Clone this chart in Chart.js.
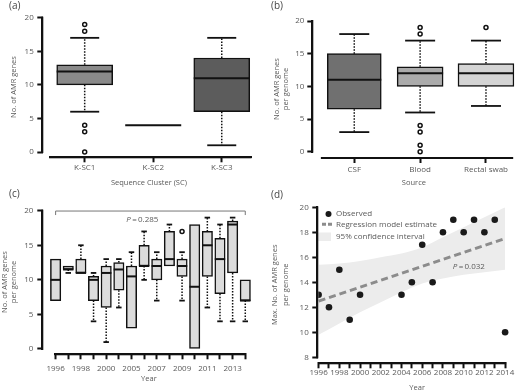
<!DOCTYPE html>
<html><head><meta charset="utf-8">
<script src="https://cdn.jsdelivr.net/npm/chart.js@4.4.1/dist/chart.umd.min.js"></script>
<style>
html,body{margin:0;padding:0;background:#fff;overflow:hidden;width:520px;height:391px;}
canvas{position:absolute;}
.axisline{position:absolute;background:#111;z-index:5;pointer-events:none;}
</style></head><body>
<canvas id="ca" width="260" height="192" style="left:0;top:0"></canvas>
<canvas id="cb" width="260" height="192" style="left:260px;top:0"></canvas>
<canvas id="cc" width="260" height="206" style="left:0;top:185px"></canvas>
<canvas id="cd" width="260" height="210" style="left:260px;top:185px"></canvas>
<script>
// ---------- DATA ----------
// (a) by sequence cluster
const scCategories = ['K-SC1', 'K-SC2', 'K-SC3'];
const scQ1 = [10, 4, 6];
const scMedian = [12, 4, 11];
const scQ3 = [13, 4, 14];
const scWhiskerLow = [6, 4, 1];
const scWhiskerHigh = [17, 4, 17];
const scOutliers = [[19, 18, 4, 3, 0], [], []];

// (b) by source
const srcCategories = ['CSF', 'Blood', 'Rectal swab'];
const srcQ1 = [6.5, 10, 10];
const srcMedian = [11, 12, 12];
const srcQ3 = [15, 13, 13.5];
const srcWhiskerLow = [3, 6, 7];
const srcWhiskerHigh = [18, 17, 17];
const srcOutliers = [[], [19, 18, 4, 3, 1, 0], [19]];

// (c) by year
const yearCategories = [1996, 1997, 1998, 1999, 2000, 2004, 2005, 2006, 2007, 2008, 2009, 2010, 2011, 2012, 2013, 2014];
const yrQ1 = [7, 11.5, 11, 7, 6, 8.5, 3, 12, 10, 12, 10.5, 0, 10.5, 8, 11, 7];
const yrMedian = [10, 11.5, 11, 10, 11, 11.5, 10.5, 12, 12, 13, 12, 9, 15, 13, 18, 7];
const yrQ3 = [13, 12, 13, 10.5, 12, 12.5, 12, 15, 13, 17, 13, 18, 17, 16, 18.5, 10];
const yrWhiskerLow = [7, 11, 11, 4, 1, 6, 3, 10, 7, 12, 7, 0, 6, 4, 4, 4];
const yrWhiskerHigh = [13, 12, 15, 11, 13, 13, 14, 17, 14, 18, 14, 18, 19, 18, 19, 10];
const yrOutliers = [[], [], [], [], [], [], [], [], [], [], [17], [], [], [], [], []];

// (d) max per year, regression and CI
const maxYears = [1996, 1997, 1998, 1999, 2000, 2004, 2005, 2006, 2007, 2008, 2009, 2010, 2011, 2012, 2013, 2014];
const maxGenes = [13, 12, 15, 11, 13, 13, 14, 17, 14, 18, 19, 18, 19, 18, 19, 10];
const regYears = [1996, 2014];
const regValues = [12.5, 17.5];
const ciYears = [1996, 1998, 2000, 2002, 2004, 2006, 2008, 2010, 2012, 2014];
const ciUpper = [15.4, 15.5, 15.7, 16.0, 16.3, 16.8, 17.6, 18.4, 19.2, 20.0];
const ciLower = [9.8, 10.7, 11.6, 12.4, 13.2, 13.9, 14.3, 14.6, 14.8, 15.0];

// tick values
const yTicks20 = [0, 5, 10, 15, 20];
const yTicksD = [8, 10, 12, 14, 16, 18, 20];
const xTicksD = [1996,1997,1998,1999,2000,2001,2002,2003,2004,2005,2006,2007,2008,2009,2010,2011,2012,2013,2014];

// ---------- STYLE ----------
const FONT = "'Open Sans', 'DejaVu Sans', sans-serif";
Chart.defaults.font.family = FONT;
Chart.defaults.font.size = 8;
Chart.defaults.color = '#5a5a5a';
Chart.defaults.animation = false;
Chart.defaults.plugins.legend.display = false;
Chart.defaults.plugins.tooltip.enabled = false;
const TXT = '#5a5a5a';
const INK = '#111111';

function yScale(o) {
  return {
    type: 'linear', min: o.min, max: o.max, bounds: 'data',
    border: {display: false},
    grid: {display: true, drawOnChartArea: false, drawTicks: true, tickLength: 6, tickWidth: 2, tickColor: INK},
    ticks: {padding: o.tickPad, color: TXT, font: {size: 8}, autoSkip: false},
    title: {display: true, text: o.title, color: TXT, font: {size: 7.5, lineHeight: o.titleLH || 1.2}, padding: {top: o.titlePad, bottom: 0}},
    afterBuildTicks: s => { s.ticks = o.tickValues.map(v => ({value: v})); },
    afterFit: s => { s.width = o.width; }
  };
}
function xScale(o) {
  return {
    type: 'linear', min: o.min, max: o.max, bounds: 'data', offset: false,
    border: {display: false},
    grid: {display: true, offset: false, drawOnChartArea: false, drawTicks: true, tickLength: 6, tickWidth: 2, tickColor: INK},
    ticks: {padding: o.tickPad, color: TXT, font: {size: 8}, autoSkip: false, maxRotation: 0, minRotation: 0, callback: o.label},
    title: {display: true, text: o.title, color: TXT, font: {size: 7.5}, padding: {top: 0, bottom: o.titlePad}},
    afterBuildTicks: s => { s.ticks = o.tickValues.map(v => ({value: v})); },
    afterFit: s => { s.height = o.height; }
  };
}

function seg(ctx, x1, y1, x2, y2) { ctx.beginPath(); ctx.moveTo(x1, y1); ctx.lineTo(x2, y2); ctx.stroke(); }

// axis line geometry taken from the chart's own scales
function axisRects(chart, ax) {
  const ca = chart.chartArea, ys = chart.scales.y, xs = chart.scales.x;
  const yTop = ys.getPixelForValue(ax.yAxis[1]) - 1, yBot = ys.getPixelForValue(ax.yAxis[0]) + 1;
  const xL = xs.getPixelForValue(ax.xAxis[0]), xR = xs.getPixelForValue(ax.xAxis[1]);
  return [
    {x: ca.left - 2, y: yTop, w: 2, h: yBot - yTop},
    {x: xL, y: ca.bottom, w: xR - xL, h: 2}
  ];
}

function axesPlugin(tag, ax) {
  return {
    id: 'axes' + tag,
    afterDraw(chart) {
      const ctx = chart.ctx;
      ctx.save();
      ctx.fillStyle = INK;
      axisRects(chart, ax).forEach(r => ctx.fillRect(r.x, r.y, r.w, r.h));
      ctx.restore();
    }
  };
}

// overlay the axis lines on the page at the same scale-derived positions
function axisOverlay(chart, canvasLeft, canvasTop, ax) {
  axisRects(chart, ax).forEach(r => {
    const d = document.createElement('div');
    d.className = 'axisline';
    d.style.left = (canvasLeft + r.x) + 'px';
    d.style.top = (canvasTop + r.y) + 'px';
    d.style.width = r.w + 'px';
    d.style.height = r.h + 'px';
    document.body.appendChild(d);
  });
}

function labelsPlugin(tag, o) {
  return {
    id: 'labels' + tag,
    afterDraw(chart) {
      const ctx = chart.ctx;
      ctx.save();
      ctx.fillStyle = '#444'; ctx.font = '10px ' + FONT; ctx.textBaseline = 'middle'; ctx.textAlign = 'left';
      ctx.fillText(o.panel, o.panelX, o.panelY);
      if (o.extra) o.extra(chart, ctx);
      ctx.restore();
    }
  };
}

function drawBox(ctx, ys, b, k, bx, width) {
  const h = width / 2, c = b.cap / 2;
  ctx.strokeStyle = INK;
  ctx.setLineDash([]); ctx.lineWidth = 2;
  const ym = ys.getPixelForValue(b.median[k]);
  seg(ctx, bx - h, ym, bx + h, ym);
  if (b.high[k] > b.q3[k]) {
    const y1 = ys.getPixelForValue(b.q3[k]), y2 = ys.getPixelForValue(b.high[k]);
    ctx.setLineDash([1.5, 1.5]); ctx.lineWidth = 1.5; seg(ctx, bx, y1, bx, y2);
    ctx.setLineDash([]); ctx.lineWidth = 1.8; seg(ctx, bx - c, y2, bx + c, y2);
  }
  if (b.low[k] < b.q1[k]) {
    const y1 = ys.getPixelForValue(b.q1[k]), y2 = ys.getPixelForValue(b.low[k]);
    ctx.setLineDash([1.5, 1.5]); ctx.lineWidth = 1.5; seg(ctx, bx, y1, bx, y2);
    ctx.setLineDash([]); ctx.lineWidth = 1.8; seg(ctx, bx - c, y2, bx + c, y2);
  }
}

function boxPlugin(tag, b) {
  return {
    id: 'box' + tag,
    afterDatasetsDraw(chart) {
      const ctx = chart.ctx, ys = chart.scales.y;
      ctx.save();
      b.q1.forEach((v, k) => {
        const bar = b.widths ? chart.getDatasetMeta(k).data[0] : chart.getDatasetMeta(0).data[k];
        const p = bar.getProps(['x', 'width'], true);
        drawBox(ctx, ys, b, k, p.x, p.width);
      });
      ctx.restore();
    }
  };
}

function boxChart(id, left, top, b, opts) {
  const data = b.q1.map((v, i) => ({x: i, y: [b.q1[i], b.q3[i]]}));
  const outl = [];
  b.outliers.forEach((arr, i) => arr.forEach(v => outl.push({x: i, y: v})));
  const datasets = [];
  if (b.widths) {
    b.q1.forEach((v, i) => datasets.push({type: 'bar', data: [data[i]], backgroundColor: b.colors[i], borderColor: INK, borderWidth: 1.5, borderSkipped: false, barThickness: b.widths[i], grouped: false}));
  } else {
    datasets.push({type: 'bar', data, backgroundColor: b.colors, borderColor: INK, borderWidth: 1.5, borderSkipped: false, barThickness: b.barW, grouped: false});
  }
  datasets.push({type: 'scatter', data: outl, pointRadius: 2, pointBorderWidth: 1.5, pointBorderColor: INK, pointBackgroundColor: '#fff'});
  const chart = new Chart(document.getElementById(id), {
    type: 'bar',
    data: {datasets},
    options: {
      responsive: false,
      layout: {padding: opts.padding},
      scales: {x: xScale(opts.x), y: yScale(opts.y)}
    },
    plugins: [boxPlugin(id, b), labelsPlugin(id, opts.decor), axesPlugin(id, opts.decor)]
  });
  axisOverlay(chart, left, top, opts.decor);
  return chart;
}

function pText(ctx, label, tx, ty) {
  ctx.fillStyle = TXT; ctx.textBaseline = 'middle'; ctx.textAlign = 'left';
  ctx.font = 'italic 8px ' + FONT; const wP = ctx.measureText('P').width;
  ctx.font = '8px ' + FONT; const rest = '\u2009=\u2009' + label; const wR = ctx.measureText(rest).width;
  const sx = tx - (wP + wR) / 2;
  ctx.font = 'italic 8px ' + FONT; ctx.fillText('P', sx, ty);
  ctx.font = '8px ' + FONT; ctx.fillText(rest, sx + wP, ty);
}

// (a)
boxChart('ca', 0, 0,
  {q1: scQ1, q3: scQ3, median: scMedian, low: scWhiskerLow, high: scWhiskerHigh, outliers: scOutliers,
   colors: ['#8a8a8a', '#8a8a8a', '#5c5c5c'], barW: 56, cap: 29},
  {padding: {top: 17.7, right: 4, left: 0, bottom: 0},
   x: {min: -0.604, max: 2.478, tickValues: [0, 1, 2], label: v => scCategories[v], tickPad: 1, title: 'Sequence Cluster (SC)', titlePad: 4.5, height: 35.7},
   y: {min: -0.64, max: 20, tickValues: yTicks20, tickPad: 3.6, title: 'No. of AMR genes', titlePad: 9.5, width: 43.3},
   decor: {yAxis: [0, 20], xAxis: [-0.52, 2.435], panel: '(a)', panelX: 9, panelY: 6.5}});

// (b)
boxChart('cb', 260, 0,
  {q1: srcQ1, q3: srcQ3, median: srcMedian, low: srcWhiskerLow, high: srcWhiskerHigh, outliers: srcOutliers,
   colors: ['#707070', '#ababab', '#d4d4d4'], widths: [54, 46, 56], cap: 30},
  {padding: {top: 21, right: 2, left: 0, bottom: 0},
   x: {min: -0.622, max: 2.433, tickValues: [0, 1, 2], label: v => srcCategories[v], tickPad: 2.2, title: 'Source', titlePad: 4.5, height: 35},
   y: {min: -0.811, max: 20, tickValues: yTicks20, tickPad: 3, title: ['No. of AMR genes', 'per genome'], titlePad: 12, width: 53.3},
   decor: {yAxis: [0, 20], xAxis: [-0.507, 2.413], panel: '(b)', panelX: 11, panelY: 6.5}});

// (c)
boxChart('cc', 0, 185,
  {q1: yrQ1, q3: yrQ3, median: yrMedian, low: yrWhiskerLow, high: yrWhiskerHigh, outliers: yrOutliers,
   colors: '#dcdcdc', barW: 10.4, cap: 5.5},
  {padding: {top: 25.7, right: 4, left: 0, bottom: 0},
   x: {min: -0.974, max: 15.73, tickValues: yearCategories.map((v, i) => i), label: v => (v % 2 === 0 ? String(yearCategories[v]) : ''), tickPad: 4.2, title: 'Year', titlePad: 7.5, height: 37.7},
   y: {min: -0.622, max: 20, tickValues: yTicks20, tickPad: 4, title: ['No. of AMR genes', 'per genome'], titlePad: 1, titleLH: 1.13, width: 43.3},
   decor: {yAxis: [0, 20], xAxis: [-0.1, 15], panel: '(c)', panelX: 9, panelY: 9.5,
     extra: (chart, ctx) => {
       const xs = chart.scales.x, ys = chart.scales.y;
       const by = ys.getPixelForValue(19.95), x1 = xs.getPixelForValue(0), x2 = xs.getPixelForValue(15);
       ctx.strokeStyle = '#777'; ctx.lineWidth = 1; ctx.setLineDash([]);
       ctx.beginPath(); ctx.moveTo(x1, by + 4); ctx.lineTo(x1, by); ctx.lineTo(x2, by); ctx.lineTo(x2, by + 4); ctx.stroke();
       pText(ctx, '0.285', xs.getPixelForValue(6.86), ys.getPixelForValue(18.65));
     }}});

// (d)
const decorD = {yAxis: [8, 20], xAxis: [1996, 2014.1], panel: '(d)', panelX: 11, panelY: 10,
  extra: (chart, ctx) => {
    const xs = chart.scales.x, ys = chart.scales.y;
    ctx.textBaseline = 'middle'; ctx.textAlign = 'left';
    ctx.fillStyle = '#1a1a1a';
    ctx.beginPath(); ctx.arc(68.5, 29, 3, 0, Math.PI * 2); ctx.fill();
    ctx.strokeStyle = '#8c8c8c'; ctx.lineWidth = 3; ctx.setLineDash([4, 2]);
    seg(ctx, 62, 39.3, 72, 39.3);
    ctx.setLineDash([]);
    ctx.fillStyle = '#ececec'; ctx.fillRect(58, 47.5, 13, 8.5);
    ctx.fillStyle = TXT; ctx.font = '8px ' + FONT;
    ctx.fillText('Observed', 76, 29);
    ctx.fillText('Regression model estimate', 76, 39.3);
    ctx.fillText('95% confidence interval', 76, 51.7);
    pText(ctx, '0.032', xs.getPixelForValue(2010.5), ys.getPixelForValue(15.25));
  }};
const chartD = new Chart(document.getElementById('cd'), {
  type: 'scatter',
  data: {datasets: [
    {type: 'scatter', label: 'Observed', data: maxYears.map((v, i) => ({x: v, y: maxGenes[i]})),
     pointRadius: 3.3, pointBackgroundColor: '#1a1a1a', pointBorderColor: '#1a1a1a', pointBorderWidth: 0},
    {type: 'line', label: 'Regression model estimate', data: regYears.map((v, i) => ({x: v, y: regValues[i]})),
     borderColor: '#8c8c8c', borderWidth: 3, borderDash: [7, 4], pointRadius: 0, fill: false},
    {type: 'line', label: '95% confidence interval', data: ciYears.map((v, i) => ({x: v, y: ciUpper[i]})),
     borderWidth: 0, borderColor: 'rgba(0,0,0,0)', pointRadius: 0, fill: '+1', backgroundColor: '#ececec', cubicInterpolationMode: 'monotone'},
    {type: 'line', label: 'ci lower', data: ciYears.map((v, i) => ({x: v, y: ciLower[i]})),
     borderWidth: 0, borderColor: 'rgba(0,0,0,0)', pointRadius: 0, fill: false, cubicInterpolationMode: 'monotone'}
  ]},
  options: {
    responsive: false,
    layout: {padding: {top: 22.3, right: 2, left: 0, bottom: 0}},
    scales: {
      x: xScale({min: 1995.97, max: 2015.05, tickValues: xTicksD, label: v => (v % 2 === 0 ? String(v) : ''), tickPad: 0, title: 'Year', titlePad: 2.5, height: 32.7}),
      y: yScale({min: 7.6, max: 20, tickValues: yTicksD, tickPad: 3.6, title: ['Max. No. of AMR genes', 'per genome'], titlePad: 9.2, titleLH: 1.467, width: 58.3})
    }
  },
  plugins: [labelsPlugin('cd', decorD), axesPlugin('cd', decorD)]
});
axisOverlay(chartD, 260, 185, decorD);
</script>
</body></html>
